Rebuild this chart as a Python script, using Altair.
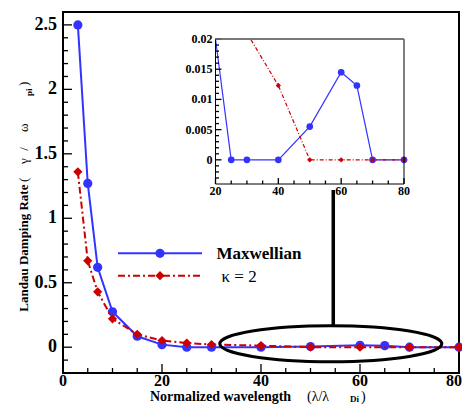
import altair as alt
import pandas as pd

# ---------------- data ----------------
max_x = [3, 5, 7, 10, 15, 20, 25, 30, 40, 50, 60, 65, 70, 80]
max_y = [2.5, 1.27, 0.62, 0.275, 0.085, 0.02, 0, 0, 0, 0.0055, 0.0145, 0.0123, 0, 0]
kap_x = [3, 5, 7, 10, 15, 20, 25, 30, 40, 50, 60, 70, 80]
kap_y = [1.36, 0.67, 0.43, 0.22, 0.10, 0.052, 0.032, 0.021, 0.0123, 0, 0, 0, 0]

x_major = [0, 20, 40, 60, 80]
x_labels = ["0", "20", "40", "60", "80"]
x_minor = [5, 10, 15, 25, 30, 35, 45, 50, 55, 65, 70, 75]
y_major = [0, 0.5, 1, 1.5, 2, 2.5]
y_labels = ["0", "0.5", "1", "1.5", "2", "2.5"]
y_minor = [-0.1, 0.1, 0.2, 0.3, 0.4, 0.6, 0.7, 0.8, 0.9, 1.1, 1.2, 1.3, 1.4,
           1.6, 1.7, 1.8, 1.9, 2.1, 2.2, 2.3, 2.4]
ix_major = [20, 40, 60, 80]
ix_labels = ["20", "40", "60", "80"]
ix_minor = [25, 30, 35, 45, 50, 55, 65, 70, 75]
iy_major = [0, 0.005, 0.01, 0.015, 0.02]
iy_labels = ["0", "0.005", "0.01", "0.015", "0.02"]
iy_minor = [-0.003, -0.002, -0.001, 0.001, 0.002, 0.003, 0.004, 0.006, 0.007,
            0.008, 0.009, 0.011, 0.012, 0.013, 0.014, 0.016, 0.017, 0.018, 0.019]

series_names = ["Maxwellian", "\u03ba = 2"]
ellipse_x, ellipse_y = [54.1], [0.027]
pointer_x, pointer_y1, pointer_y2 = [54.6], [0.167], [1.219]

# ---------------- layout ----------------
W, H = 396, 361
BLUE = "#3333ff"
RED = "#cc0000"
FONT = "Liberation Serif"

df_max = pd.DataFrame({"x": max_x, "y": max_y})
df_kap = pd.DataFrame({"x": kap_x, "y": kap_y})

xsc = alt.Scale(domain=[0, 80], nice=False, zero=False)
ysc = alt.Scale(domain=[-0.2, 2.6], nice=False, zero=False)
ixsc = alt.Scale(domain=[20, 80], range=[152.5, 341], nice=False, zero=False)
iysc = alt.Scale(domain=[-0.004, 0.02], range=[172, 27], nice=False, zero=False)


def X(f, sc):
    return alt.X(f, scale=sc, axis=None)


def Y(f, sc):
    return alt.Y(f, scale=sc, axis=None)


# ---------- main panel ----------
blue_line = alt.Chart(df_max).mark_line(color=BLUE, strokeWidth=2).encode(
    x=X("x:Q", xsc), y=Y("y:Q", ysc))
blue_pts = alt.Chart(df_max).mark_circle(color=BLUE, size=85, opacity=1).encode(
    x=X("x:Q", xsc), y=Y("y:Q", ysc))
red_line = alt.Chart(df_kap).mark_line(color=RED, strokeWidth=2, strokeDash=[7, 3, 2, 3]).encode(
    x=X("x:Q", xsc), y=Y("y:Q", ysc))
red_pts = alt.Chart(df_kap).mark_point(shape="diamond", filled=True, color=RED, size=85,
                                       opacity=1).encode(x=X("x:Q", xsc), y=Y("y:Q", ysc))


def yticks(vals, length, sc, x0=0):
    return alt.Chart(pd.DataFrame({"v": vals})).mark_rule(color="black", strokeWidth=1.3).encode(
        y=Y("v:Q", sc), x=alt.value(x0), x2=alt.value(x0 + length))


def xticks(vals, length, sc, y0=H):
    return alt.Chart(pd.DataFrame({"v": vals})).mark_rule(color="black", strokeWidth=1.3).encode(
        x=X("v:Q", sc), y=alt.value(y0), y2=alt.value(y0 - length))


def ylabels(vals, labs, sc, xpos, size):
    return alt.Chart(pd.DataFrame({"v": vals, "t": labs})).mark_text(
        font=FONT, fontSize=size, fontWeight="bold", align="right", baseline="middle",
        color="black").encode(y=Y("v:Q", sc), x=alt.value(xpos), text="t:N")


def xlabels(vals, labs, sc, ypos, size, align="center", dx=0, baseline="middle"):
    return alt.Chart(pd.DataFrame({"v": vals, "t": labs})).mark_text(
        font=FONT, fontSize=size, fontWeight="bold", align=align, baseline=baseline, dx=dx,
        color="black").encode(x=X("v:Q", sc), y=alt.value(ypos), text="t:N")


main_ticks = [yticks(y_major, 9, ysc), yticks(y_minor, 5, ysc),
              xticks(x_major, 9, xsc), xticks(x_minor, 5, xsc)]
main_labels = [ylabels(y_major, y_labels, ysc, -6, 18),
               xlabels(x_major[:-1], x_labels[:-1], xsc, H + 8, 16),
               xlabels(x_major[-1:], x_labels[-1:], xsc, H + 8, 16, align="right", dx=3)]

# ellipse + pointer
k = 0.162
kk = 0.552 * k
ell_path = (f"M -1 0 C -1 {-kk} -0.552 {-k} 0 {-k} C 0.552 {-k} 1 {-kk} 1 0 "
            f"C 1 {kk} 0.552 {k} 0 {k} C -0.552 {k} -1 {kk} -1 0 Z")
ellipse = alt.Chart(pd.DataFrame({"x": ellipse_x, "y": ellipse_y})).mark_point(
    shape=ell_path, filled=False, stroke="black", strokeWidth=3, size=222 ** 2, opacity=1
).encode(x=X("x:Q", xsc), y=Y("y:Q", ysc))
pointer = alt.Chart(pd.DataFrame({"x": pointer_x, "y": pointer_y1, "y2": pointer_y2})).mark_rule(
    color="black", strokeWidth=3.5).encode(x=X("x:Q", xsc), y=Y("y:Q", ysc), y2="y2:Q")

# legend (drawn by hand)
leg = pd.DataFrame({"name": series_names})
leg_blue_line = alt.Chart(leg.iloc[[0]]).mark_rule(color=BLUE, strokeWidth=2).encode(
    x=alt.value(55), x2=alt.value(139), y=alt.value(241.3))
leg_blue_pt = alt.Chart(leg.iloc[[0]]).mark_circle(color=BLUE, size=85, opacity=1).encode(
    x=alt.value(97), y=alt.value(241.3))
leg_red_line = alt.Chart(leg.iloc[[1]]).mark_rule(color=RED, strokeWidth=2,
                                                  strokeDash=[7, 3, 2, 3]).encode(
    x=alt.value(55), x2=alt.value(139), y=alt.value(263.7))
leg_red_pt = alt.Chart(leg.iloc[[1]]).mark_point(shape="diamond", filled=True, color=RED,
                                                 size=85, opacity=1).encode(
    x=alt.value(97), y=alt.value(263.7))
leg_txt1 = alt.Chart(leg.iloc[[0]]).mark_text(
    font=FONT, fontSize=17, fontWeight="bold", align="left", baseline="middle", color="black"
).encode(x=alt.value(153.5), y=alt.value(242), text="name:N")
leg_txt2 = alt.Chart(leg.iloc[[1]]).mark_text(
    font=FONT, fontSize=17, fontWeight="normal", align="left", baseline="middle", color="black"
).encode(x=alt.value(158.5), y=alt.value(264.5), text="name:N")


# axis titles (pieces, with subscripts)
def txt(s, x, y, size, weight, angle=0):
    return alt.Chart(pd.DataFrame({"t": [s]})).mark_text(
        font=FONT, fontSize=size, fontWeight=weight, align="left", baseline="alphabetic",
        color="black", angle=angle).encode(x=alt.value(x), y=alt.value(y), text="t:N")


ytitle = [
    txt("Landau Damping Rate", -35.5, 299.7, 13, "bold", 270),
    txt("(", -35.5, 170, 13, "normal", 270),
    txt("\u03b3", -35.5, 152, 13, "normal", 270),
    txt("/", -35.5, 138.7, 13, "normal", 270),
    txt("\u03c9", -35.5, 120, 13, "normal", 270),
    txt("pi", -31.5, 84, 9, "bold", 270),
    txt(")", -35.5, 74, 13, "normal", 270),
]
xtitle = [
    txt("Normalized wavelength", 87, 388.5, 14, "bold"),
    txt("(\u03bb/\u03bb", 244, 388.5, 14, "normal"),
    txt("Di", 287, 389.8, 9, "bold"),
    txt(")", 298, 388.5, 14, "normal"),
]

main = alt.layer(*main_ticks, *main_labels, blue_line, blue_pts, red_line, red_pts,
                 ellipse, pointer,
                 leg_blue_line, leg_blue_pt, leg_red_line, leg_red_pt, leg_txt1, leg_txt2,
                 *ytitle, *xtitle)

# ---------- inset panel ----------
frame_df = pd.DataFrame({"a": [20], "b": [80], "c": [-0.004], "d": [0.02]})
cover = alt.Chart(frame_df).mark_rect(color="white").encode(
    x=X("a:Q", ixsc), x2="b:Q", y=Y("d:Q", iysc), y2=alt.value(2))
frame = alt.Chart(frame_df).mark_rect(fillOpacity=0, stroke="black", strokeWidth=1).encode(
    x=X("a:Q", ixsc), x2="b:Q", y=Y("c:Q", iysc), y2="d:Q")
top_edge = alt.Chart(frame_df).mark_rule(color="#777777", strokeWidth=1.6).encode(
    x=X("a:Q", ixsc), x2="b:Q", y=Y("d:Q", iysc))

iblue_line = alt.Chart(df_max).transform_filter("datum.x >= 20").mark_line(
    color=BLUE, strokeWidth=1.2, clip=True).encode(x=X("x:Q", ixsc), y=Y("y:Q", iysc))
ired_line = alt.Chart(df_kap).transform_filter("datum.x >= 20").mark_line(
    color=RED, strokeWidth=1.2, strokeDash=[4, 2, 1, 2], clip=True).encode(
    x=X("x:Q", ixsc), y=Y("y:Q", iysc))
iblue_pts = alt.Chart(df_max).transform_filter("datum.x > 20 && datum.y <= 0.02").mark_circle(
    color=BLUE, size=45, opacity=1).encode(x=X("x:Q", ixsc), y=Y("y:Q", iysc))
ired_pts = alt.Chart(df_kap).transform_filter("datum.x > 20 && datum.y <= 0.02").mark_point(
    shape="diamond", filled=True, color=RED, size=28, opacity=1).encode(
    x=X("x:Q", ixsc), y=Y("y:Q", iysc))

inset_ticks = [yticks(iy_major, 6, iysc, 152.5), yticks(iy_minor, 3.5, iysc, 152.5),
               xticks(ix_major, 6, ixsc, 172), xticks(ix_minor, 3.5, ixsc, 172)]
inset_labels = [ylabels(iy_major, iy_labels, iysc, 149.5, 12),
                xlabels(ix_major, ix_labels, ixsc, 174, 12, baseline="top")]

inset = alt.layer(iblue_line, ired_line, iblue_pts, ired_pts, cover, *inset_ticks,
                  frame, top_edge, *inset_labels)

chart = alt.layer(main, inset).resolve_scale(x="independent", y="independent").properties(
    width=W, height=H,
    autosize=alt.AutoSizeParams(type="none"),
    padding={"left": 55, "top": 4, "right": 3, "bottom": 31},
).configure_view(stroke="black", strokeWidth=2)

chart.save("out.html", embed_options={"renderer": "svg", "actions": False})
